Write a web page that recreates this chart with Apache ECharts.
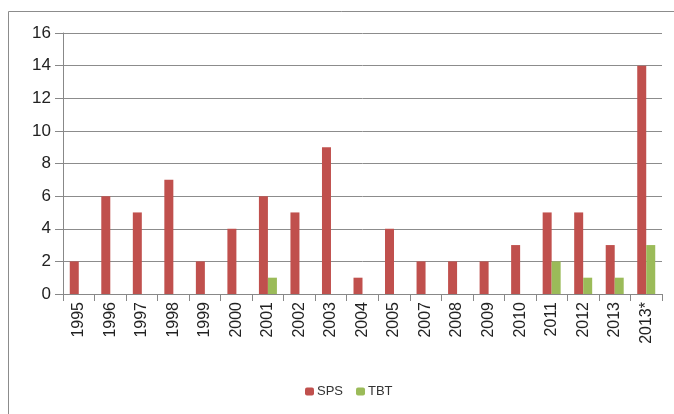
<!DOCTYPE html>
<html><head><meta charset="utf-8">
<script src="https://cdn.jsdelivr.net/npm/echarts@6/dist/echarts.min.js"></script>
<style>html,body{margin:0;padding:0;background:#fff}#c{width:674px;height:414px}</style>
</head><body><div id="c"></div>
<script>
var categories = ['1995','1996','1997','1998','1999','2000','2001','2002','2003','2004','2005','2007','2008','2009','2010','2011','2012','2013','2013*'];
var spsValues = [2,6,5,7,2,4,6,5,9,1,4,2,2,2,3,5,5,3,14];
var tbtValues = [0,0,0,0,0,0,1,0,0,0,0,0,0,0,0,2,1,1,3];
var yTicks = {min:0, max:16, interval:2};

var chart = echarts.init(document.getElementById('c'), null, {renderer:'canvas'});
chart.setOption({
  animation:false,
  backgroundColor:'#fff',
  graphic:[{type:'polyline', shape:{points:[[8.5,414],[8.5,11.5],[674,11.5]]}, style:{stroke:'#8c8c8c', lineWidth:1, fill:null}}],
  grid:{left:63, top:33, right:12, bottom:120},
  legend:{top:385, left:305, padding:0, itemWidth:9, itemHeight:8, itemGap:13,
    textStyle:{fontFamily:'Liberation Sans', fontSize:13, color:'#333', padding:[0,0,0,-2]},
    data:['SPS','TBT']},
  xAxis:{type:'category', data:categories,
    axisLine:{lineStyle:{color:'#888', width:1}},
    axisTick:{show:true, length:7, lineStyle:{color:'#888'}},
    axisLabel:{rotate:90, fontFamily:'Liberation Sans', fontSize:16, color:'#222', margin:8}},
  yAxis:{type:'value', min:yTicks.min, max:yTicks.max, interval:yTicks.interval,
    axisLine:{show:true, lineStyle:{color:'#888'}},
    axisTick:{show:true, length:8, lineStyle:{color:'#888'}},
    splitLine:{lineStyle:{color:'#8c8c8c', width:1}},
    axisLabel:{fontFamily:'Liberation Sans', fontSize:17, color:'#222', margin:12}},
  series:[
    {name:'SPS', type:'bar', data:spsValues, barWidth:9, barGap:'0%', itemStyle:{color:'#C0504D'}},
    {name:'TBT', type:'bar', data:tbtValues, barWidth:9, barGap:'0%', itemStyle:{color:'#9BBB59'}}
  ]
});
</script></body></html>
